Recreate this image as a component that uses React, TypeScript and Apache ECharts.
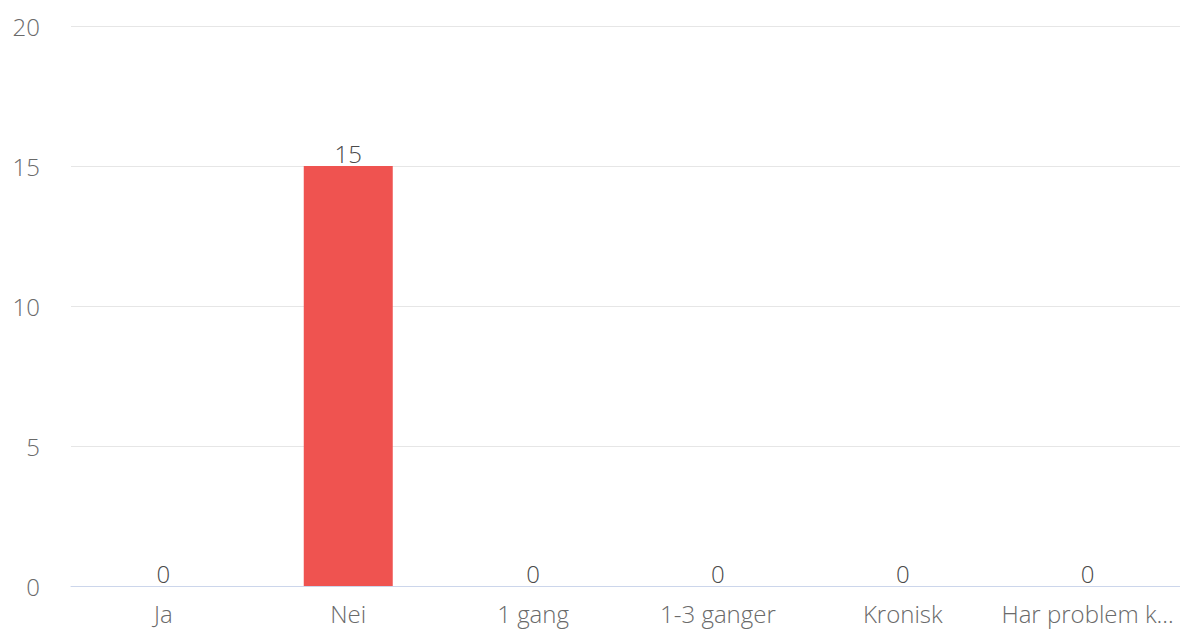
import React, { useEffect, useRef } from "react";
import * as echarts from "echarts";

const categories = ["Ja", "Nei", "1 gang", "1-3 ganger", "Kronisk", "Har problem k…"];
const values = [0, 15, 0, 0, 0, 0];
const yMin = 0;
const yMax = 20;
const yInterval = 5;

export default function App() {
  const ref = useRef<HTMLDivElement>(null);
  useEffect(() => {
    if (!ref.current) return;
    const chart = echarts.init(ref.current, undefined, { renderer: "svg" });
    const font = "'Open Sans', sans-serif";
    chart.setOption({
      animation: false,
      backgroundColor: "#ffffff",
      textStyle: { fontFamily: font },
      grid: { left: 71, right: 0, top: 26, bottom: 46, containLabel: false },
      xAxis: {
        type: "category",
        data: categories,
        axisLine: { lineStyle: { color: "#ccd6eb", width: 1 } },
        axisTick: { show: false },
        axisLabel: { color: "#6a6a6a", fontSize: 24, fontWeight: 300, fontFamily: font, margin: 15, interval: 0 },
      },
      yAxis: {
        type: "value",
        min: yMin,
        max: yMax,
        interval: yInterval,
        axisLine: { show: false },
        axisTick: { show: false },
        splitLine: { lineStyle: { color: "#e6e6e6", width: 1 } },
        axisLabel: { color: "#6a6a6a", fontSize: 24, fontWeight: 300, fontFamily: font, margin: 31 },
      },
      series: [
        {
          type: "bar",
          data: values,
          barWidth: 89,
          itemStyle: { color: "#ef5350" },
          label: {
            show: true,
            position: "top",
            distance: 1,
            color: "#4a4a4a",
            fontSize: 24,
            fontWeight: 300,
            fontFamily: font,
          },
        },
      ],
    });
    return () => chart.dispose();
  }, []);
  return (
    <div
      ref={ref}
      style={{ position: "fixed", left: 0, top: 0, width: 1180, height: 632 }}
    />
  );
}
